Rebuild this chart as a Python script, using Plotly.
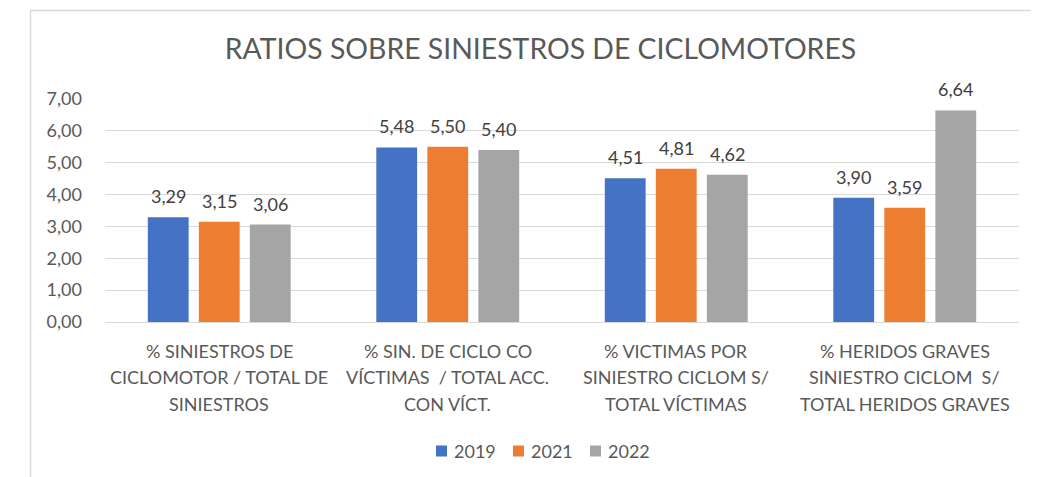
import plotly.graph_objects as go

categories = ["c1", "c2", "c3", "c4"]
category_lines = [
    ["% SINIESTROS DE", "CICLOMOTOR / TOTAL DE", "SINIESTROS"],
    ["% SIN. DE CICLO CO", "VÍCTIMAS  / TOTAL ACC.", "CON VÍCT."],
    ["% VICTIMAS POR", "SINIESTRO CICLOM S/", "TOTAL VÍCTIMAS"],
    ["% HERIDOS GRAVES", "SINIESTRO CICLOM  S/", "TOTAL HERIDOS GRAVES"],
]
series_names = ["2019", "2021", "2022"]
values_2019 = [3.29, 5.48, 4.51, 3.90]
values_2021 = [3.15, 5.50, 4.81, 3.59]
values_2022 = [3.06, 5.40, 4.62, 6.64]
colors = ["#4472C4", "#ED7D31", "#A5A5A5"]
y_ticks = [0, 1, 2, 3, 4, 5, 6, 7]
title_text = "RATIOS SOBRE SINIESTROS DE CICLOMOTORES"

FONT = "Lato"
OFF = 8  # page body margin
W, H = 1039 - OFF, 477 - OFF

# target pixel geometry (page coordinates)
PL, PR, PT, PB = 105, 1019, 99, 322
ml, mr, mt, mb = PL - OFF, 1039 - PR, PT - OFF, 477 - PB
pw, ph = PR - PL, PB - PT

def px_x(px):
    return (px - PL) / pw

def px_y(py):
    return (PB - py) / ph

bargap = 0.33
slot = pw / len(categories) * (1 - bargap) / len(series_names)

fig = go.Figure()
all_vals = [values_2019, values_2021, values_2022]
for name, vals, col in zip(series_names, all_vals, colors):
    fig.add_trace(go.Bar(
        x=categories, y=vals, name=name, marker_color=col,
        marker_line_width=0, cliponaxis=False, showlegend=False,
    ))

annotations = []
for i, vals in enumerate(all_vals):
    for cat, v in zip(categories, vals):
        annotations.append(dict(
            x=cat, y=v, xref="x", yref="y", text=f"{v:.2f}".replace(".", ","),
            showarrow=False, xanchor="center", yanchor="middle",
            xshift=(i - 1) * slot, yshift=21,
            font=dict(family=FONT, size=18, color="#404040"),
        ))

line_offsets = [351, 377, 404]
for cat, lines in zip(categories, category_lines):
    for ln, py in zip(lines, line_offsets):
        annotations.append(dict(
            x=cat, y=px_y(py), xref="x", yref="paper", text=ln, showarrow=False,
            xanchor="center", yanchor="middle",
            font=dict(family=FONT, size=18, color="#595959"),
        ))

# custom legend (Excel-like compact spacing)
shapes = [dict(type="rect", xref="paper", yref="paper",
               x0=px_x(30.5), x1=px_x(1060), y0=px_y(10.5), y1=px_y(500),
               line=dict(color="#D9D9D9", width=1.5), layer="below")]
LEG_X0, LEG_PITCH, LEG_Y, SQ = 436, 77, 451, 11
for i, (name, col) in enumerate(zip(series_names, colors)):
    x0 = LEG_X0 + i * LEG_PITCH
    shapes.append(dict(type="rect", xref="paper", yref="paper",
                       x0=px_x(x0), x1=px_x(x0 + SQ),
                       y0=px_y(LEG_Y + SQ / 2), y1=px_y(LEG_Y - SQ / 2),
                       fillcolor=col, line=dict(width=0)))
    annotations.append(dict(x=px_x(x0 + SQ + 5), y=px_y(LEG_Y), xref="paper", yref="paper",
                            text=name, showarrow=False, xanchor="left", yanchor="middle",
                            font=dict(family=FONT, size=18, color="#595959")))

fig.update_layout(
    width=W, height=H,
    margin=dict(l=ml, r=mr, t=mt, b=mb),
    paper_bgcolor="white", plot_bgcolor="white",
    separators=",.",
    barmode="group", bargap=bargap, bargroupgap=0.2,
    title=dict(text=title_text, x=(540.5 - OFF) / W, y=1 - (49.5 - OFF) / H,
               xref="container", yref="container",
               xanchor="center", yanchor="middle",
               font=dict(family=FONT, size=28.4, color="#595959")),
    xaxis=dict(showticklabels=False, showline=True, linecolor="#D9D9D9", linewidth=1,
               showgrid=False, ticks=""),
    yaxis=dict(range=[0, 7], tickvals=y_ticks, tickformat=".2f",
               showgrid=True, gridcolor="#D9D9D9", gridwidth=1, zeroline=False,
               tickfont=dict(family=FONT, size=18, color="#595959"),
               ticklabelstandoff=22),
    showlegend=False,
    annotations=annotations,
    shapes=shapes,
)

fig.write_html("out.html")
